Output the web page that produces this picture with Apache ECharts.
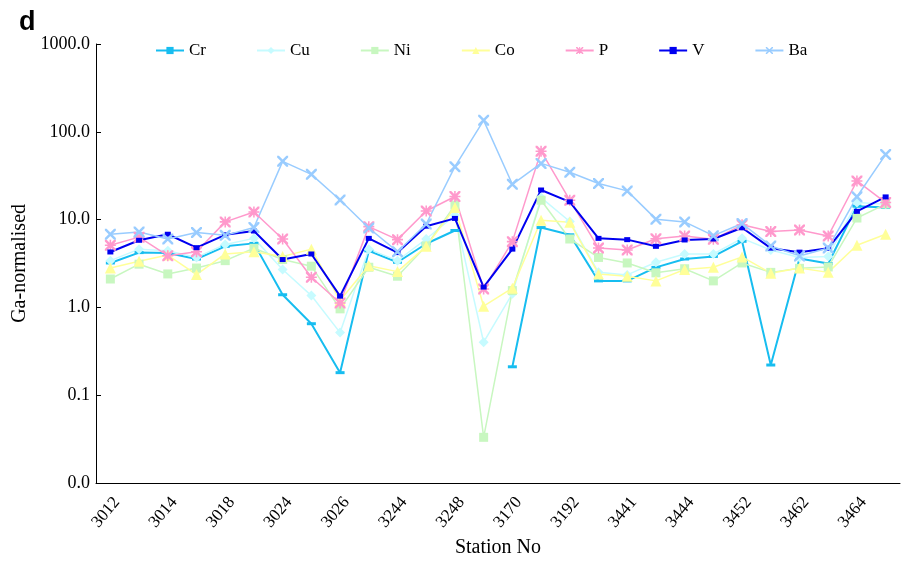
<!DOCTYPE html>
<html>
<head>
<meta charset="utf-8">
<script src="https://cdn.jsdelivr.net/npm/echarts@6/dist/echarts.min.js"></script>
<style>
  html, body { margin: 0; padding: 0; background: #fff; }
  #chart { width: 905px; height: 563px; }
</style>
</head>
<body>
<div id="chart"></div>
<script>
// Station numbers along the traverse (every other one is labelled)
const stations = ['3012','3013','3014','3016','3018','3020','3024','3025','3026','3240',
                  '3244','3246','3248','3168','3170','3190','3192','3440','3441','3443',
                  '3444','3450','3452','3460','3462','3463','3464','3466'];

// Ga-normalised element ratios per station
const cr = [3.2, 4.2, 4.15, 3.55, 4.95, 5.35, 1.39, 0.65, 0.18, 4.4, 3.26, 5.3, 7.5, null, 0.21, 8.1, 6.7, 2.0, 2.0, 2.85, 3.55, 3.8, 5.65, 0.22, 3.6, 3.15, 14.2, 13.7];
const cu = [3.4, 4.6, 4.4, 3.7, 5.2, 6.1, 2.7, 1.36, 0.515, 4.6, 3.4, 6.0, 11.2, 0.40, 1.43, 17.8, 9.5, 2.5, 2.34, 3.26, 4.05, 4.05, 6.1, 4.5, 3.7, 3.8, 15.6, 14.9];
const ni = [2.1, 3.1, 2.4, 2.8, 3.4, 4.7, 3.5, 2.94, 0.96, 2.86, 2.26, 5.0, 14.6, 0.033, 1.55, 16.6, 6.0, 3.7, 3.2, 2.47, 2.75, 2.0, 3.2, 2.5, 2.78, 2.88, 10.4, 15.0];
const co = [2.8, 3.35, 3.94, 2.36, 4.05, 4.3, 3.8, 4.6, 1.2, 2.98, 2.55, 4.95, 13.7, 1.03, 1.65, 9.8, 9.3, 2.4, 2.26, 2.0, 2.7, 2.86, 3.75, 2.45, 2.8, 2.5, 5.1, 6.8];
const p  = [5.1, 6.3, 3.87, 4.3, 9.4, 12.2, 6.0, 2.2, 1.12, 8.3, 5.9, 12.5, 18.3, 1.62, 5.6, 60, 16.6, 4.73, 4.5, 6.05, 6.5, 5.95, 8.7, 7.3, 7.6, 6.5, 27.5, 15.6];
const v  = [4.27, 5.8, 6.8, 4.78, 6.7, 7.4, 3.5, 4.05, 1.34, 6.1, 4.2, 8.4, 10.3, 1.7, 4.6, 21.7, 15.9, 6.1, 5.9, 4.95, 5.85, 6.0, 8.05, 4.72, 4.25, 4.7, 12.4, 18.1];
const ba = [6.8, 7.2, 6.0, 7.1, 6.6, 8.1, 46, 32.7, 16.7, 8.0, 4.3, 8.9, 40, 135, 25.2, 43.6, 34.6, 25.7, 21.2, 10.1, 9.4, 6.55, 9.0, 5.0, 3.85, 4.75, 18.2, 55];

const SERIF = 'Liberation Serif';
const xMark = 'path://M0,0L1.6,0L10,8.4L10,10L8.4,10L0,1.6Z M8.4,0L10,0L10,1.6L1.6,10L0,10L0,8.4Z';
const starMark = 'path://M0,0L1.6,0L10,8.4L10,10L8.4,10L0,1.6Z M8.4,0L10,0L10,1.6L1.6,10L0,10L0,8.4Z M4.3,0L5.7,0L5.7,10L4.3,10Z M0,4.3L10,4.3L10,5.7L0,5.7Z';

function line(name, data, color, symbol, size, width) {
  return {
    name, type: 'line', data,
    symbol, symbolSize: size, showSymbol: true,
    connectNulls: false,
    lineStyle: { color, width },
    itemStyle: { color, borderWidth: 0 },
    emphasis: { disabled: true },
    animation: false
  };
}

const chart = echarts.init(document.getElementById('chart'), null, { renderer: 'canvas' });
chart.setOption({
  backgroundColor: '#ffffff',
  graphic: [{
    type: 'text', left: 19, top: 9,
    style: { text: 'd', font: 'bold 27px "Liberation Sans"', fill: '#000' }
  }],
  legend: {
    top: 37, left: 150,
    itemWidth: 28, itemHeight: 9, itemGap: 50,
    textStyle: { fontFamily: SERIF, fontSize: 17, color: '#000' },
    data: ['Cr', 'Cu', 'Ni', 'Co', 'P', 'V', 'Ba']
  },
  grid: { left: 96, right: 5, top: 44, bottom: 78 },
  xAxis: {
    type: 'category', data: stations, boundaryGap: true,
    name: 'Station No', nameLocation: 'middle', nameGap: 55,
    nameTextStyle: { fontFamily: SERIF, fontSize: 20, color: '#000' },
    axisLine: { lineStyle: { color: '#000', width: 1 } },
    axisTick: { inside: true, length: 5, lineStyle: { color: '#000' } },
    axisLabel: { interval: 1, rotate: 50, margin: 11, verticalAlign: 'top',
                 fontFamily: SERIF, fontSize: 17, color: '#000' },
    splitLine: { show: false }
  },
  yAxis: {
    type: 'log', logBase: 10, min: 0.01, max: 1000,
    name: 'Ga-normalised', nameLocation: 'middle', nameGap: 66,
    nameTextStyle: { fontFamily: SERIF, fontSize: 20, color: '#000' },
    axisLine: { show: true, lineStyle: { color: '#000', width: 1 } },
    axisTick: { show: true, inside: true, length: 5, lineStyle: { color: '#000' } },
    axisLabel: { fontFamily: SERIF, fontSize: 18, color: '#000', margin: 6,
                 formatter: val => val.toFixed(1) },
    splitLine: { show: false }
  },
  series: [
    line('Cr', cr, '#17bdf0', 'rect', [9, 3], 2),
    line('Cu', cu, '#c6fbff', 'diamond', 10, 1.5),
    line('Ni', ni, '#c8f7c0', 'rect', 9, 1.5),
    line('Co', co, '#ffff99', 'triangle', 11, 1.5),
    line('P', p, '#ff99cc', starMark, 11, 1.5),
    line('V', v, '#0000f0', 'rect', [6, 5], 2),
    line('Ba', ba, '#99ccff', xMark, 11, 1.5)
  ]
});
</script>
</body>
</html>
